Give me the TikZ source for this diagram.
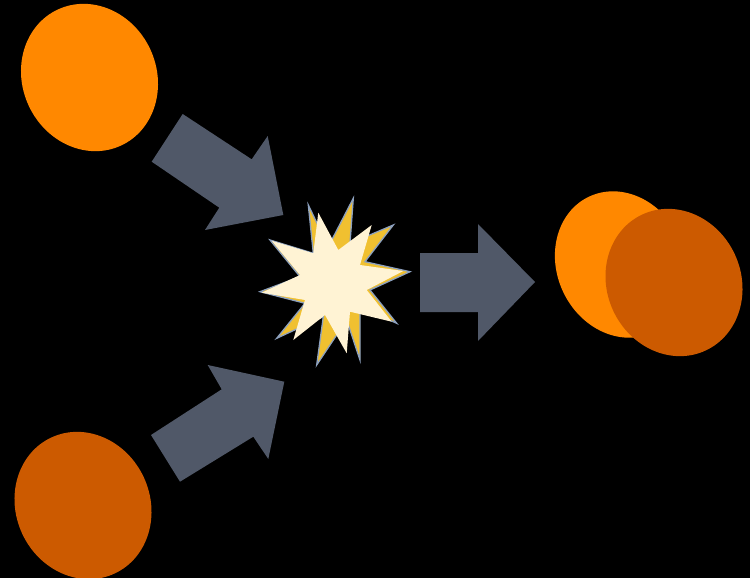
\documentclass[tikz,border=0pt]{standalone}
\begin{document}
\begin{tikzpicture}[x=1pt,y=-1pt,
  orangeball/.style={fill={rgb,255:red,255;green,136;blue,0}},
  darkball/.style={fill={rgb,255:red,204;green,90;blue,0}},
  fatarrow/.style={fill={rgb,255:red,80;green,88;blue,104}},
  backstar/.style={fill={rgb,255:red,240;green,192;blue,48},draw={rgb,255:red,140;green,160;blue,190},line width=1.3pt,line join=miter},
  frontstar/.style={fill={rgb,255:red,255;green,243;blue,212}}]
\fill[black] (0,0) rectangle (750,578);
\useasboundingbox (0,0) rectangle (750,578);
% balls
\fill[orangeball,rotate around={25:(89.5,77.5)}] (89.5,77.5) ellipse [x radius=67, y radius=75];
\fill[darkball,rotate around={25:(83,505.5)}] (83,505.5) ellipse [x radius=67, y radius=75];
\fill[orangeball,rotate around={25:(621,264.5)}] (621,264.5) ellipse [x radius=64, y radius=75];
\fill[darkball,rotate around={25:(674,282.5)}] (674,282.5) ellipse [x radius=67, y radius=75];
% arrows
\fill[fatarrow] (182.7,114) -- (251.7,159.3) -- (267.7,136) -- (283.3,215) -- (205,230) -- (219.3,207.7) -- (151.7,161.7) -- cycle;
\fill[fatarrow] (151,435) -- (221.7,389.3) -- (207.7,365) -- (284.3,381.7) -- (268.3,459) -- (253.3,436.7) -- (180,481.7) -- cycle;
\fill[fatarrow] (420,253) -- (478,253) -- (478,224) -- (535,282) -- (478,341) -- (478,312) -- (420,312) -- cycle;
% explosion
\filldraw[backstar] (308.3,205) -- (328.3,246.7) -- (353.3,198.3) -- (350,243.3) -- (393.3,225) -- (365,261.7) -- (410,271.7) -- (370,290) -- (396.7,323.3) -- (360,306.7) -- (360,360) -- (346.7,320) -- (316.7,365) -- (323.3,316.7) -- (276.7,338.3) -- (305,303.3) -- (260,291.7) -- (300,276.7) -- (270,240) -- (313.3,253.3) -- cycle;
\fill[frontstar] (318.3,212.7) -- (338.3,250) -- (371.7,225) -- (360,265) -- (403.3,271) -- (366.7,290) -- (391.7,321.7) -- (350,311.7) -- (346.7,353.3) -- (325,315) -- (293.3,340) -- (305,300) -- (261.7,292.7) -- (300,275) -- (271.7,240.7) -- (313.3,253.3) -- cycle;
\end{tikzpicture}
\end{document}
